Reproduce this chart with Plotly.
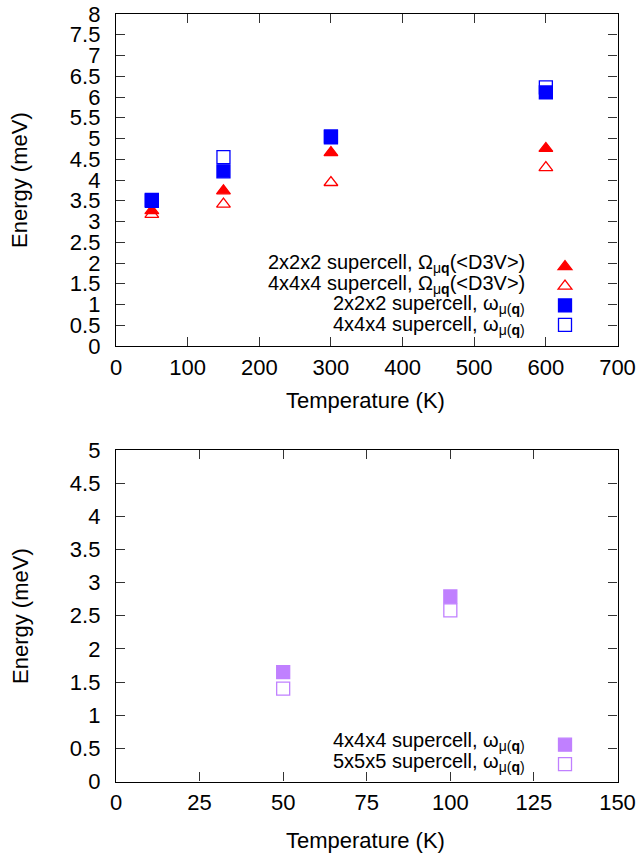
import plotly.graph_objects as go

# ---- data: upper panel (2x2x2 / 4x4x4 supercells) ----
temps_top = [50, 150, 300, 600]
omega_d3v_222 = [3.26, 3.74, 4.66, 4.76]
omega_d3v_444 = [3.17, 3.42, 3.94, 4.30]
omega_mu_222 = [3.52, 4.21, 5.03, 6.11]
omega_mu_444 = [3.50, 4.55, 5.05, 6.23]

# ---- data: lower panel (4x4x4 / 5x5x5 supercells) ----
temps_bot = [50, 100]
omega_mu_444_b = [1.65, 2.79]
omega_mu_555_b = [1.40, 2.58]

labels_top = [
    "2x2x2 supercell, Ω<sub>μ<b>q</b></sub>(&lt;D3V&gt;)",
    "4x4x4 supercell, Ω<sub>μ<b>q</b></sub>(&lt;D3V&gt;)",
    "2x2x2 supercell, ω<sub>μ(<b>q</b>)</sub>",
    "4x4x4 supercell, ω<sub>μ(<b>q</b>)</sub>",
]
labels_bot = [
    "4x4x4 supercell, ω<sub>μ(<b>q</b>)</sub>",
    "5x5x5 supercell, ω<sub>μ(<b>q</b>)</sub>",
]

RED = "#ff0000"
BLUE = "#0000ff"
PURPLE = "#c080ff"
FONT = "Liberation Sans, Arial, sans-serif"

W, H = 642, 856

fig = go.Figure()

top_series = [
    (omega_d3v_222, "triangle-up", RED, 12),
    (omega_d3v_444, "triangle-up-open", RED, 12),
    (omega_mu_222, "square", BLUE, 13),
    (omega_mu_444, "square-open", BLUE, 13),
]
for ys, sym, col, sz in top_series:
    fig.add_trace(go.Scatter(
        x=temps_top, y=ys, mode="markers", name="",
        marker=dict(symbol=sym, color=col, size=sz, line=dict(color=col, width=1.3)),
        xaxis="x", yaxis="y", legend="legend", showlegend=True,
    ))

bot_series = [
    (omega_mu_444_b, "square", PURPLE, 13),
    (omega_mu_555_b, "square-open", PURPLE, 13),
]
for ys, sym, col, sz in bot_series:
    fig.add_trace(go.Scatter(
        x=temps_bot, y=ys, mode="markers", name="",
        marker=dict(symbol=sym, color=col, size=sz, line=dict(color=col, width=1.3)),
        xaxis="x2", yaxis="y2", legend="legend2", showlegend=True,
    ))


def px_x(p):
    return p / W


def px_y(p):
    return 1 - p / H


axis_common = dict(
    showgrid=False, zeroline=False, showline=True, linecolor="black", linewidth=1.3,
    mirror="allticks", ticks="inside", ticklen=9, tickwidth=1.2, tickcolor="#333",
    automargin=False,
    tickfont=dict(family=FONT, size=22, color="black"),
)

x_dom = [px_x(116), px_x(617.5)]
top_dom = [px_y(346), px_y(14)]
bot_dom = [px_y(781.5), px_y(450)]

legend_common = dict(xanchor="left", yanchor="top", bgcolor="rgba(0,0,0,0)",
                     font=dict(size=12.6), tracegroupgap=0, itemwidth=30)

fig.update_layout(
    width=W, height=H,
    margin=dict(l=0, r=0, t=0, b=0, autoexpand=False),
    paper_bgcolor="white", plot_bgcolor="white",
    font=dict(family=FONT, color="black"),
    xaxis=dict(domain=x_dom, range=[0, 700], dtick=100, anchor="y",
               ticklabelstandoff=1, **axis_common),
    yaxis=dict(domain=top_dom, range=[0, 8], dtick=0.5, anchor="x",
               ticklabelstandoff=10, **axis_common),
    xaxis2=dict(domain=x_dom, range=[0, 150], dtick=25, anchor="y2",
                ticklabelstandoff=1, **axis_common),
    yaxis2=dict(domain=bot_dom, range=[0, 5], dtick=0.5, anchor="x2",
                ticklabelstandoff=10, **axis_common),
    legend=dict(x=px_x(545), y=px_y(252), **legend_common),
    legend2=dict(x=px_x(545), y=px_y(730), **legend_common),
)

ann = []
# legend texts, right-aligned next to the legend symbols
for i, t in enumerate(labels_top):
    ann.append(dict(text=t, x=px_x(527), y=px_y(264 + 20.4 * i), xref="paper", yref="paper",
                    xanchor="right", yanchor="middle", showarrow=False,
                    font=dict(family=FONT, size=20, color="black")))
for i, t in enumerate(labels_bot):
    ann.append(dict(text=t, x=px_x(527), y=px_y(741.5 + 20.6 * i), xref="paper", yref="paper",
                    xanchor="right", yanchor="middle", showarrow=False,
                    font=dict(family=FONT, size=20, color="black")))

# axis titles
for yc, xc in [(180, 400), (616, 840)]:
    ann.append(dict(text="Energy (meV)", x=px_x(20), y=px_y(yc), xref="paper", yref="paper",
                    textangle=-90, xanchor="center", yanchor="middle", showarrow=False,
                    font=dict(family=FONT, size=22, color="black")))
    ann.append(dict(text="Temperature (K)", x=px_x(366), y=px_y(xc), xref="paper", yref="paper",
                    xanchor="center", yanchor="middle", showarrow=False,
                    font=dict(family=FONT, size=22, color="black")))

fig.update_layout(annotations=ann)

fig.write_html("out.html")
